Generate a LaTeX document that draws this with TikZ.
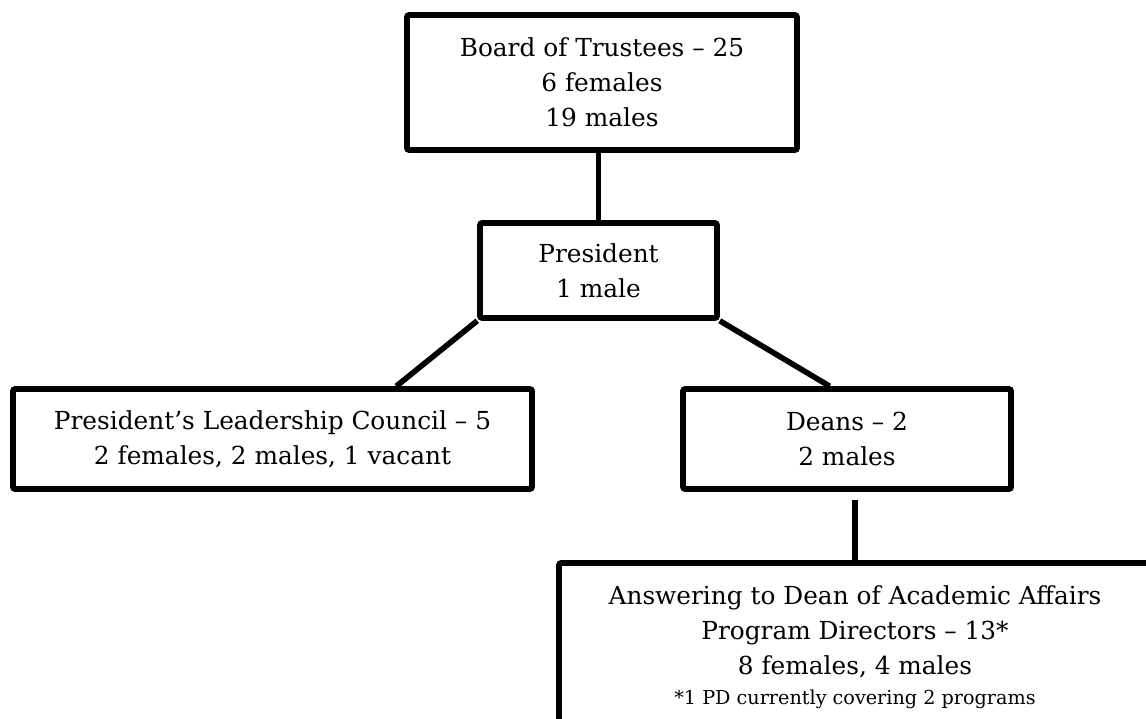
\documentclass[tikz,border=0pt]{standalone}
\usepackage{fontspec}
\setmainfont{DejaVu Serif}
\usetikzlibrary{positioning,calc}

\begin{document}
\begin{tikzpicture}[
  x=0.5pt, y=-0.5pt,
  font=\fontsize{12.4}{17.5}\selectfont,
  orgbox/.style={rectangle, draw=black, fill=white, line width=2.8pt,
                 rounded corners=1pt, align=center, inner sep=0pt},
  link/.style={draw=black, line width=2.8pt}
]

\path[use as bounding box, fill=white] (0,0) rectangle (1146,718);
\clip (0,0) rectangle (1146,718);

% ===== Top: board and president =====
\node[orgbox, minimum width=195pt, minimum height=67.5pt] (board) at (602,82.5)
  {Board of Trustees -- 25\\6 females\\19 males};
\node[orgbox, minimum width=118.5pt, minimum height=47.5pt] (pres) at (598.5,270.5)
  {President\\1 male};

% ===== Second level =====
\node[orgbox, minimum width=259.5pt, minimum height=50pt] (plc) at (272.5,439)
  {President's Leadership Council -- 5\\2 females, 2 males, 1 vacant};
\node[orgbox, minimum width=164pt, minimum height=50pt] (deans) at (847,439)
  {Deans -- 2\\2 males};

% ===== Program directors (runs off the page) =====
\node[orgbox, minimum width=296pt, minimum height=84pt] (pd) at (855,647)
  {Answering to Dean of Academic Affairs\\Program Directors -- 13*\\8 females, 4 males\\[-2.5pt]
   {\fontsize{9.6}{12}\selectfont *1 PD currently covering 2 programs}};

% ===== Connectors =====
\draw[link] (pres.north) -- (pres.north |- board.south);
\draw[link] (pres.south west) -- ($(plc.north west)!0.736!(plc.north east)$);
\draw[link] (pres.south east) -- ($(deans.north west)!0.448!(deans.north east)$);
\draw[link, shorten >=4pt] (pd.north) -- (pd.north |- deans.south);

\end{tikzpicture}
\end{document}
